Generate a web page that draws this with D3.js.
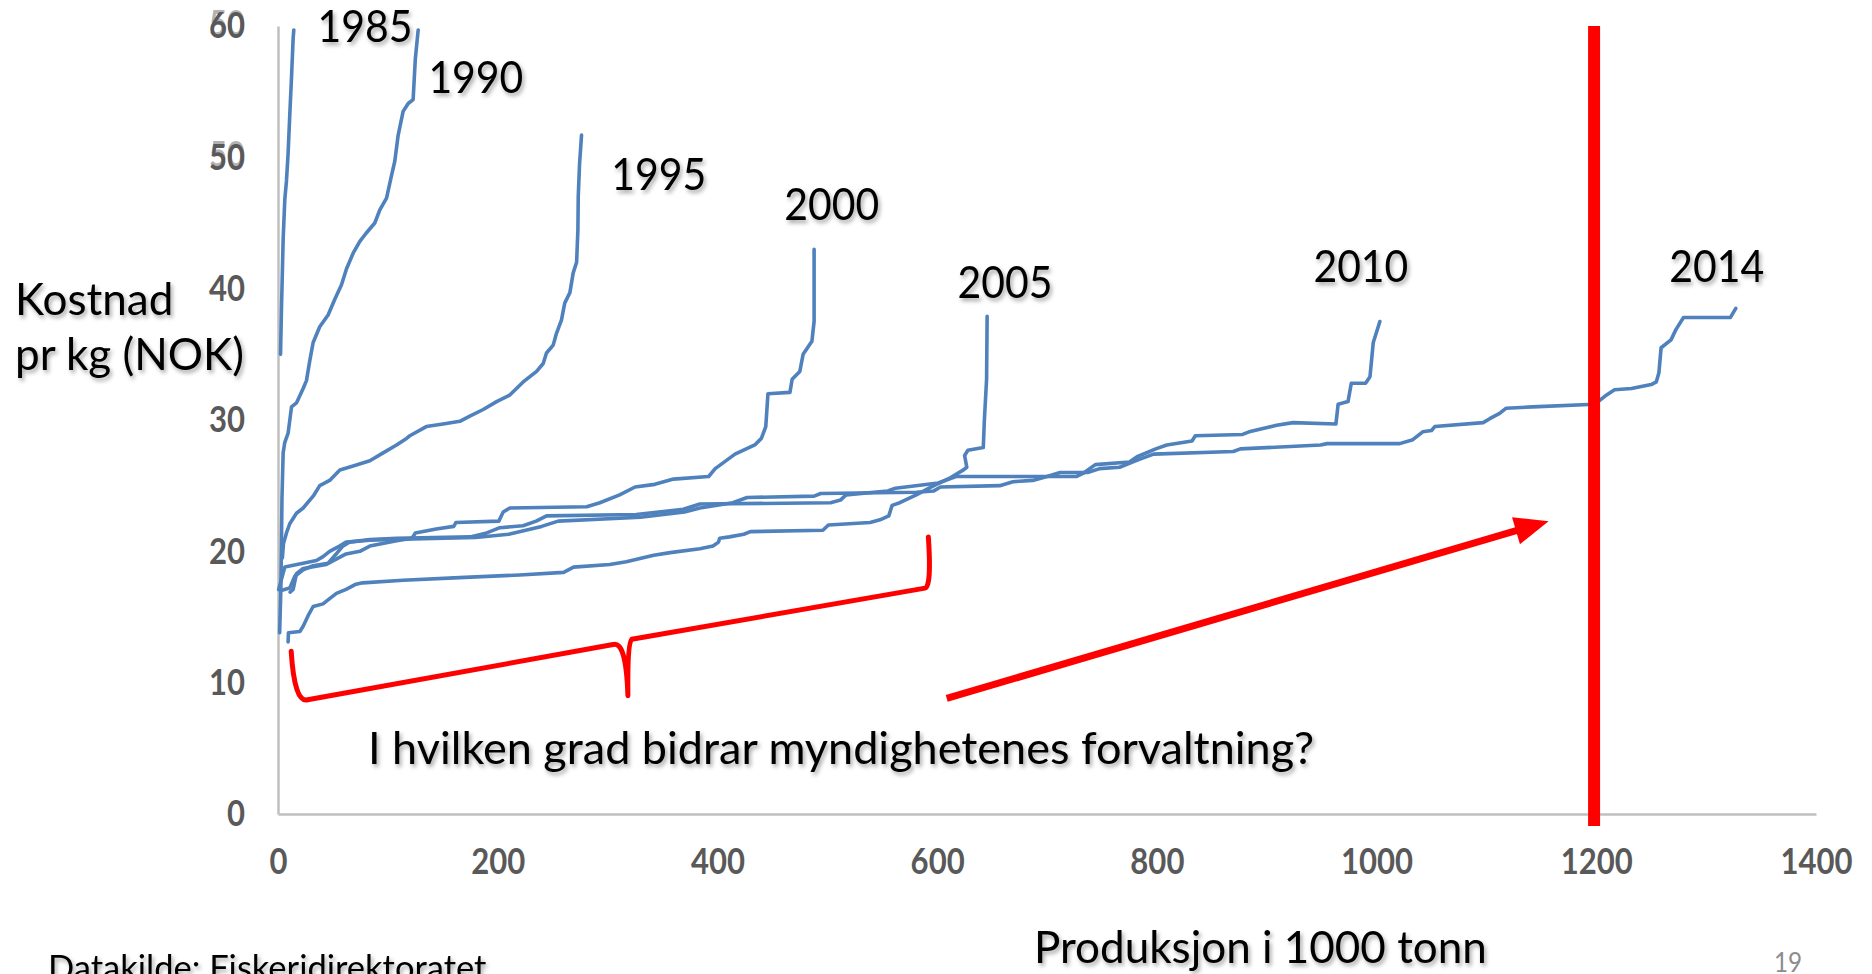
<!DOCTYPE html>
<html lang="no">
<head>
<meta charset="utf-8">
<title>Kostnad pr kg</title>
<script src="https://cdn.jsdelivr.net/npm/d3@7/dist/d3.min.js"></script>
<style>
  body { margin: 0; background: #fff; }
  svg { display: block; }
  text { font-family: Lato, "Open Sans", sans-serif; }
</style>
</head>
<body>
<div id="chart"></div>
<script>
// cost curves: [produksjon i 1000 tonn (cumulative), kostnad pr kg NOK]
var s1985 = [[2.3,35.0],[3.2,38.6],[4.7,43.8],[6.2,46.8],[7.7,48.2],[9.2,50.3],[10.7,53.2],[12.3,56.1],[13.8,59.1],[14.4,59.7]];
var s1990 = [[1.5,13.8],[2.6,17.1],[3.2,21.0],[3.6,24.0],[4.7,27.5],[6.2,28.3],[9.2,29.0],[12.3,31.0],[16.8,31.3],[22.9,32.4],
             [25.9,33.0],[28.9,34.5],[32,35.9],[38,37.1],[45.6,38.0],[51.7,39.2],[57.8,40.3],[62.3,41.5],[68.4,42.7],[74.5,43.6],
             [80,44.2],[88.1,45.0],[92.7,46.0],[98.8,46.9],[103,48.5],[106.3,49.7],[109.4,51.7],[113.9,53.5],[118.5,54.1],[123,54.4],
             [125,57.5],[127.6,59.7]];
var s1995 = [[4.0,19.5],[5,20.6],[7.7,21.4],[10.7,22.1],[16.8,22.9],[22.9,23.3],[32,24.2],[38,25.0],[47,25.4],[56.3,26.2],
             [68.4,26.5],[83.6,26.9],[95.7,27.5],[107.9,28.1],[117,28.6],[120,28.8],[135,29.5],[150.3,29.7],[165.5,29.9],[174.6,30.3],
             [186.8,30.8],[199,31.4],[211,31.9],[223.2,32.9],[235.4,33.7],[241.4,34.3],[244.4,35.1],[250.5,35.7],[253.5,36.6],[258,37.6],
             [261,38.9],[265.7,39.7],[268.7,41.2],[271.8,42.0],[273,44.5],[273.3,47.0],[274.5,49.5],[276.3,51.7]];
var s2000 = [[11,16.9],[13.8,17.1],[16.8,18.3],[22.9,18.7],[44,19.0],[53,19.4],[62,19.8],[74.5,20.0],[83.6,20.4],[108,20.8],
             [122,21.0],[125,21.4],[144,21.7],[160,21.9],[162,22.2],[201,22.3],[205,23.0],[211,23.3],[281,23.4],[293,23.7],
             [311,24.3],[325,24.9],[343,25.1],[360,25.5],[392,25.7],[398,26.3],[416,27.4],[434,28.1],[440,28.6],[444,29.5],
             [446,32.0],[466,32.1],[468,33.1],[475,33.7],[478,35.0],[486,36.0],[488,37.5],[488,43.0]];
var s2005 = [[9.2,13.1],[9.5,13.8],[19.9,13.9],[22.9,14.3],[27.4,15.1],[32,15.8],[41,16.0],[47,16.4],[53.2,16.8],[62,17.1],
             [71,17.5],[77,17.6],[114,17.8],[165,18.0],[220,18.2],[260,18.4],[269,18.8],[302,19.0],[317,19.2],[342,19.7],
             [357,19.9],[384,20.2],[396,20.4],[401,20.7],[402,21.0],[411,21.1],[424,21.3],[430,21.5],[496,21.6],[501,22.0],
             [539,22.2],[548,22.4],[556,22.7],[559,23.5],[566,23.7],[581,24.3],[597,25.0],[612,25.6],[624,26.2],[627,26.4],
             [625,27.3],[628,27.7],[642,27.9],[643,30.0],[645,33.1],[645.5,37.9]];
var s2010 = [[2.0,17.0],[10.7,17.2],[15.3,18.1],[22.9,18.6],[32,18.9],[45.6,19.1],[53,19.8],[59,20.4],[65,20.7],[83.6,20.9],
             [108,21.0],[175,21.1],[190,21.4],[202,21.8],[223,21.95],[235,22.3],[244.5,22.7],[326,22.8],[369,23.2],[384,23.6],
             [503,23.7],[512,23.9],[517,24.3],[555,24.6],[562,24.8],[601,25.2],[614,25.6],[617,25.7],[727,25.7],[734,26.0],
             [744,26.6],[775,26.8],[782,27.2],[799,27.8],[809,28.1],[832,28.4],[835,28.8],[878,28.9],[884,29.1],[909,29.6],
             [924,29.8],[963,29.7],[965,31.2],[974,31.4],[977,32.8],[990,32.8],[994,33.3],[997,35.9],[1003,37.5]];
var s2014 = [[0.6,17.1],[6.2,18.8],[35,19.3],[41,19.6],[47,20.0],[56,20.4],[62,20.7],[83.6,20.85],[123,20.95],[180,21.05],
             [210,21.3],[240,21.9],[255,22.3],[330,22.6],[370,23.0],[384,23.3],[414,23.7],[427,24.1],[488,24.2],[494,24.4],
             [581,24.5],[597,24.6],[603,24.9],[657,25.0],[669,25.3],[687,25.4],[700,25.7],[712,26.0],[737,26.0],[748,26.3],
             [766,26.4],[775,26.7],[784,27.0],[797,27.4],[869.6,27.6],[876,27.8],[949,28.1],[955,28.2],[1021,28.2],[1033,28.5],
             [1042,29.1],[1050,29.2],[1053,29.5],[1097,29.8],[1103,30.1],[1112,30.5],[1118,30.9],[1142,31.0],[1198.6,31.2],[1207.7,31.8],
             [1216.6,32.3],[1232,32.4],[1250,32.7],[1254.6,32.9],[1257,33.6],[1259,35.5],[1268,36.1],[1272.6,36.9],[1279.4,37.8],[1322,37.8],
             [1327,38.5]];

var years = ["1985", "1990", "1995", "2000", "2005", "2010", "2014"];
var series = [s1985, s1990, s1995, s2000, s2005, s2010, s2014];
// where each year label sits, in data units (left edge, baseline)
var yearLabelAt = [[35.9,58.8],[136.9,54.9],[303.3,47.5],[460.9,45.2],[618.5,39.3],[942.5,40.5],[1266.4,40.5]];

var xTicks = [0, 200, 400, 600, 800, 1000, 1200, 1400];
var yTicks = [0, 10, 20, 30, 40, 50, 60];
var ghostTicks = [[60, "50"], [50, "50"]];   // overlapping labels left from a second axis

// annotations, data units
var markerX = 1198;                    // red capacity line
var arrowFrom = [608.7, 8.8], arrowTo = [1156.6, 22.3];
var braceLeft = [[12,12.4],[15,8.4],[27,8.7],[305,12.9],[317,13.2],[318.5,9.0]];
var braceRight = [[318.5,9.0],[318,13.0],[322,13.3],[589,17.2],[595,17.3],[592,21.1]];

var W = 1872, H = 974;
var margin = {top: 26, right: 56, bottom: 160, left: 278};
var width = W - margin.left - margin.right;
var height = H - margin.top - margin.bottom;

var svg = d3.select("#chart").append("svg")
    .attr("width", W)
    .attr("height", H);

var defs = svg.append("defs");
defs.append("filter").attr("id", "shadow")
    .attr("x", "-10%").attr("y", "-30%").attr("width", "130%").attr("height", "180%")
  .append("feDropShadow")
    .attr("dx", 2).attr("dy", 3).attr("stdDeviation", 2)
    .attr("flood-color", "#000").attr("flood-opacity", 0.35);

var g = svg.append("g")
    .attr("transform", "translate(" + margin.left + "," + margin.top + ")");

var x = d3.scaleLinear().domain([0, 1400]).range([0, width]);
var y = d3.scaleLinear().domain([0, 60]).range([height, 0]);

// squeeze text a bit, the original font is narrower than Lato
function condense(sel, k) {
    sel.each(function() {
        var w = this.getComputedTextLength();
        d3.select(this).attr("textLength", w * k).attr("lengthAdjust", "spacingAndGlyphs");
    });
}

var xAxis = d3.axisBottom(x).tickValues(xTicks).tickSize(0).tickPadding(34).tickFormat(d3.format("d"));
var yAxis = d3.axisLeft(y).tickValues(yTicks).tickSize(0).tickPadding(33).tickFormat(d3.format("d"));

var gx = g.append("g").attr("transform", "translate(0," + height + ")").call(xAxis);
var gy = g.append("g").call(yAxis);

[gx, gy].forEach(function(a) {
    a.select(".domain").attr("stroke", "#BFBFBF").attr("stroke-width", 2.5);
    a.selectAll("text")
        .attr("fill", "#595959")
        .style("font-size", "37px")
        .style("font-weight", "bold")
        .call(condense, 0.84);
});

g.selectAll(".ghost")
    .data(ghostTicks)
    .enter().append("text")
    .attr("class", "ghost")
    .attr("x", -33)
    .attr("y", function(d) { return y(d[0]) - 2; })
    .attr("dy", "0.32em")
    .attr("text-anchor", "end")
    .attr("fill", "#595959")
    .attr("opacity", 0.45)
    .style("font-size", "37px")
    .style("font-weight", "bold")
    .text(function(d) { return d[1]; })
    .call(condense, 0.84);

// cost curves
var line = d3.line()
    .x(function(d) { return x(d[0]); })
    .y(function(d) { return y(d[1]); });

g.selectAll(".curve")
    .data(series)
    .enter().append("path")
    .attr("class", "curve")
    .attr("d", line)
    .attr("fill", "none")
    .attr("stroke", "#4F81BD")
    .attr("stroke-width", 3.6)
    .attr("stroke-linejoin", "round")
    .attr("stroke-linecap", "round");

g.selectAll(".year")
    .data(years)
    .enter().append("text")
    .attr("class", "year")
    .attr("x", function(d, i) { return x(yearLabelAt[i][0]); })
    .attr("y", function(d, i) { return y(yearLabelAt[i][1]); })
    .attr("fill", "#000")
    .attr("filter", "url(#shadow)")
    .style("font-size", "44px")
    .text(function(d) { return d; })
    .call(condense, 0.93);

// red annotations
var red = "#FF0000";
g.append("line")
    .attr("x1", x(markerX)).attr("x2", x(markerX))
    .attr("y1", y(60)).attr("y2", y(0) + 12)
    .attr("stroke", red).attr("stroke-width", 12);

var bp = d3.path();
bp.moveTo(x(braceLeft[0][0]), y(braceLeft[0][1]));
bp.quadraticCurveTo(x(braceLeft[1][0]), y(braceLeft[1][1]), x(braceLeft[2][0]), y(braceLeft[2][1]));
bp.lineTo(x(braceLeft[3][0]), y(braceLeft[3][1]));
bp.quadraticCurveTo(x(braceLeft[4][0]), y(braceLeft[4][1]), x(braceLeft[5][0]), y(braceLeft[5][1]));
bp.moveTo(x(braceRight[0][0]), y(braceRight[0][1]));
bp.quadraticCurveTo(x(braceRight[1][0]), y(braceRight[1][1]), x(braceRight[2][0]), y(braceRight[2][1]));
bp.lineTo(x(braceRight[3][0]), y(braceRight[3][1]));
bp.quadraticCurveTo(x(braceRight[4][0]), y(braceRight[4][1]), x(braceRight[5][0]), y(braceRight[5][1]));
g.append("path")
    .attr("d", bp.toString())
    .attr("fill", "none")
    .attr("stroke", red)
    .attr("stroke-width", 5)
    .attr("stroke-linecap", "round")
    .attr("stroke-linejoin", "round");

// arrow
var ax0 = x(arrowFrom[0]), ay0 = y(arrowFrom[1]);
var ax1 = x(arrowTo[0]), ay1 = y(arrowTo[1]);
var ang = Math.atan2(ay1 - ay0, ax1 - ax0);
var headLen = 34, headHalf = 14;
var bx = ax1 - headLen * Math.cos(ang), by = ay1 - headLen * Math.sin(ang);
g.append("line")
    .attr("x1", ax0).attr("y1", ay0)
    .attr("x2", bx + 2 * Math.cos(ang)).attr("y2", by + 2 * Math.sin(ang))
    .attr("stroke", red).attr("stroke-width", 7);
g.append("path")
    .attr("d", "M" + ax1 + "," + ay1 +
        "L" + (bx - headHalf * Math.sin(ang)) + "," + (by + headHalf * Math.cos(ang)) +
        "L" + (bx + headHalf * Math.sin(ang)) + "," + (by - headHalf * Math.cos(ang)) + "Z")
    .attr("fill", red);

// texts
svg.append("text")
    .attr("x", 15).attr("y", 315)
    .attr("filter", "url(#shadow)")
    .style("font-size", "44px")
    .text("Kostnad");
svg.append("text")
    .attr("x", 15).attr("y", 370)
    .attr("filter", "url(#shadow)")
    .style("font-size", "44px")
    .text("pr kg (NOK)");

svg.append("text")
    .attr("x", 368).attr("y", 764)
    .attr("filter", "url(#shadow)")
    .style("font-size", "45px")
    .text("I hvilken grad bidrar myndighetenes forvaltning?");

svg.append("text")
    .attr("x", 1034).attr("y", 963)
    .attr("filter", "url(#shadow)")
    .style("font-size", "44px")
    .text("Produksjon i 1000 tonn");

svg.append("text")
    .attr("x", 48).attr("y", 980)
    .attr("filter", "url(#shadow)")
    .style("font-size", "34.5px")
    .text("Datakilde: Fiskeridirektoratet");

svg.append("text")
    .attr("x", 1774).attr("y", 972)
    .attr("fill", "#8C8C8C")
    .style("font-size", "27px")
    .text("19")
    .call(condense, 0.9);
</script>
</body>
</html>
